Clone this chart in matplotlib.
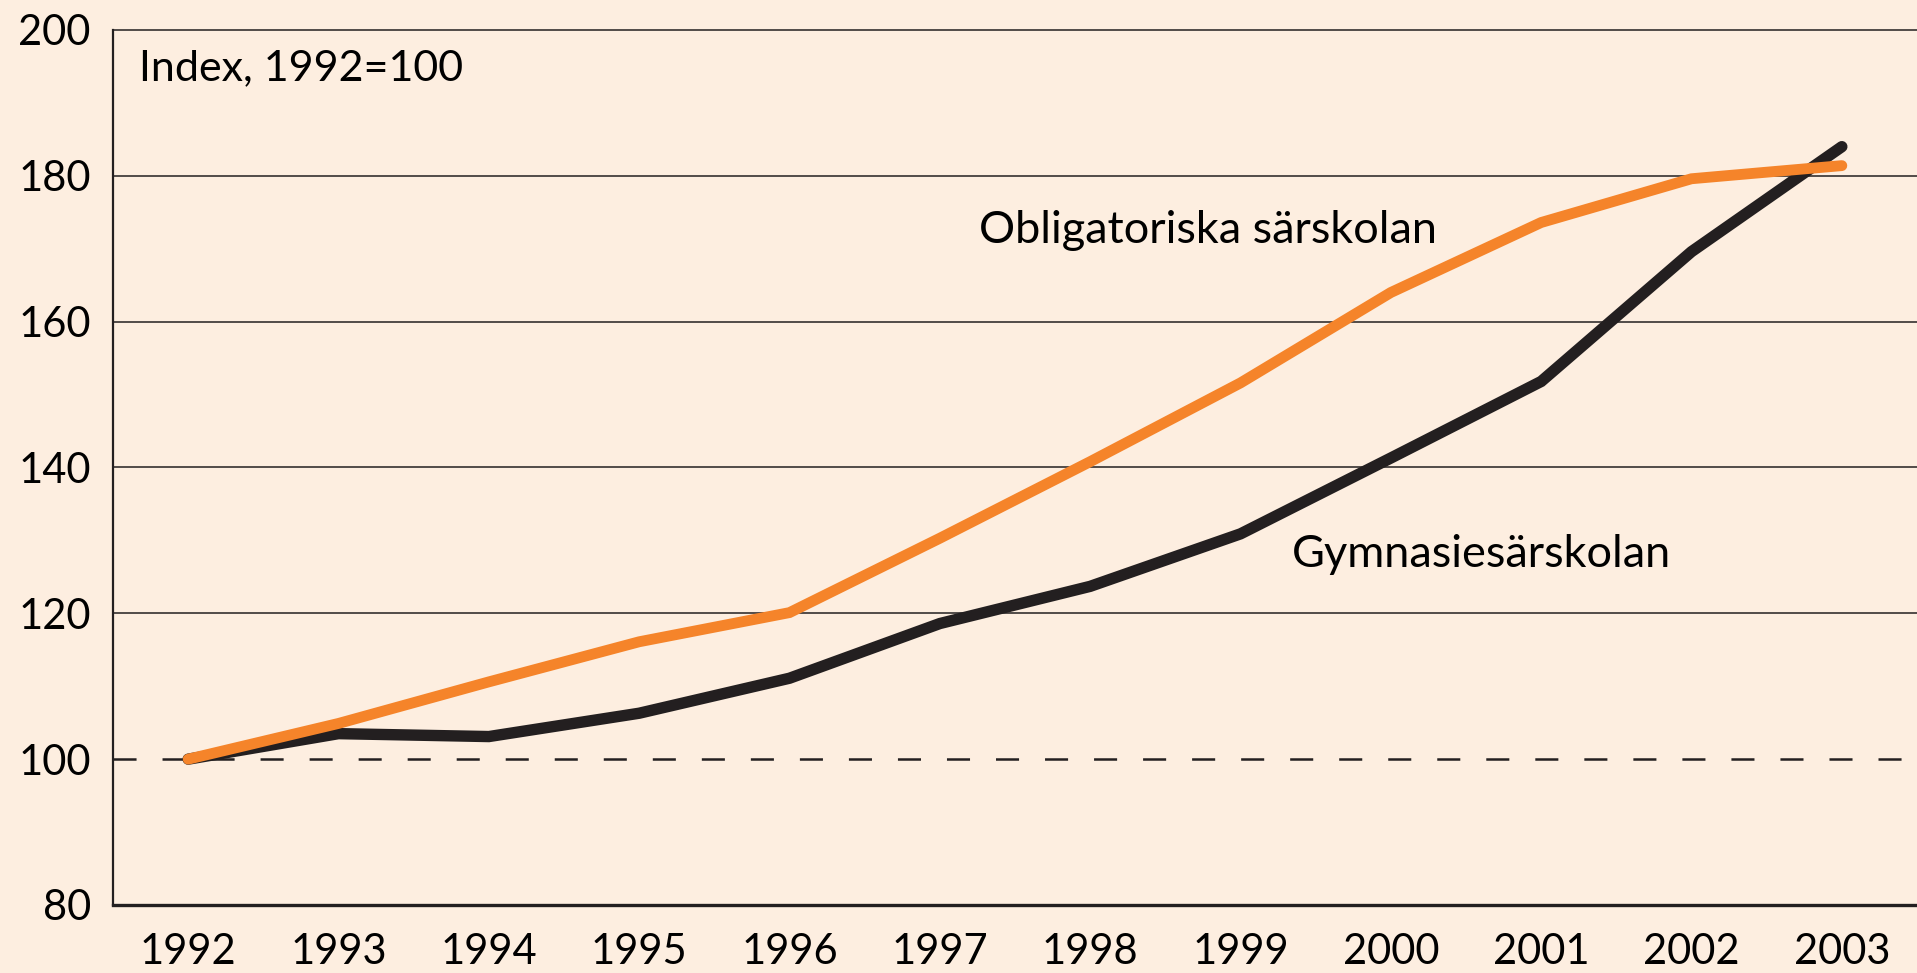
import matplotlib
matplotlib.use("Agg")
import matplotlib.pyplot as plt

# data (index, 1992=100)
years = [1992, 1993, 1994, 1995, 1996, 1997, 1998, 1999, 2000, 2001, 2002, 2003]
obligatoriska = [100, 104.9, 110.6, 116.1, 120.1, 130.3, 140.8, 151.6, 164.0, 173.6, 179.6, 181.4]
gymnasie = [100, 103.5, 103.1, 106.3, 111.1, 118.6, 123.7, 130.9, 141.3, 151.8, 169.6, 184.0]
yticks = [80, 100, 120, 140, 160, 180, 200]
grid_levels = [120, 140, 160, 180]

bg = "#FDEEE0"
orange = "#F5842A"
dark = "#231F20"

plt.rcParams['font.family'] = ['Lato', 'DejaVu Sans']

fig = plt.figure(figsize=(19.17, 9.73), dpi=100, facecolor=bg)
ax = fig.add_axes([113 / 1917, 1 - 905 / 973, 1 - 113 / 1917, (905 - 30) / 973])
ax.set_facecolor(bg)

ax.set_xlim(1991.5, 2003.5)
ax.set_ylim(80, 200)

# grid lines and the dashed base line
for g in grid_levels:
    ax.axhline(g, color=dark, lw=1.1, zorder=1)
base = ax.axhline(100, color=dark, lw=1.8, zorder=1)
base.set_dashes((16.6 / 1.8, 18.7 / 1.8))

ax.plot(years, gymnasie, color=dark, lw=8.2, solid_capstyle='round',
        solid_joinstyle='miter', zorder=3)
ax.plot(years, obligatoriska, color=orange, lw=7.8, solid_capstyle='round',
        solid_joinstyle='miter', zorder=4)

ax.text(1991.67, 193.1, "Index, 1992=100", fontsize=31, color="black", ha='left', va='baseline')
ax.text(1997.26, 170.8, "Obligatoriska särskolan", fontsize=32.5, color="black", ha='left', va='baseline')
ax.text(1999.34, 126.4, "Gymnasiesärskolan", fontsize=32.5, color="black", ha='left', va='baseline')

ax.set_xticks(years)
ax.set_xticklabels([str(y) for y in years])
ax.set_yticks(yticks)
ax.tick_params(axis='both', length=0, labelsize=30, colors="black")
ax.tick_params(axis='y', pad=16)
ax.tick_params(axis='x', pad=20)

ax.spines['right'].set_visible(False)
ax.spines['left'].set_linewidth(1.6)
ax.spines['bottom'].set_linewidth(2.4)
ax.spines['top'].set_linewidth(1.1)
for s in ['left', 'bottom', 'top']:
    ax.spines[s].set_color(dark)

fig.savefig("out.png", dpi=100, facecolor=bg)
